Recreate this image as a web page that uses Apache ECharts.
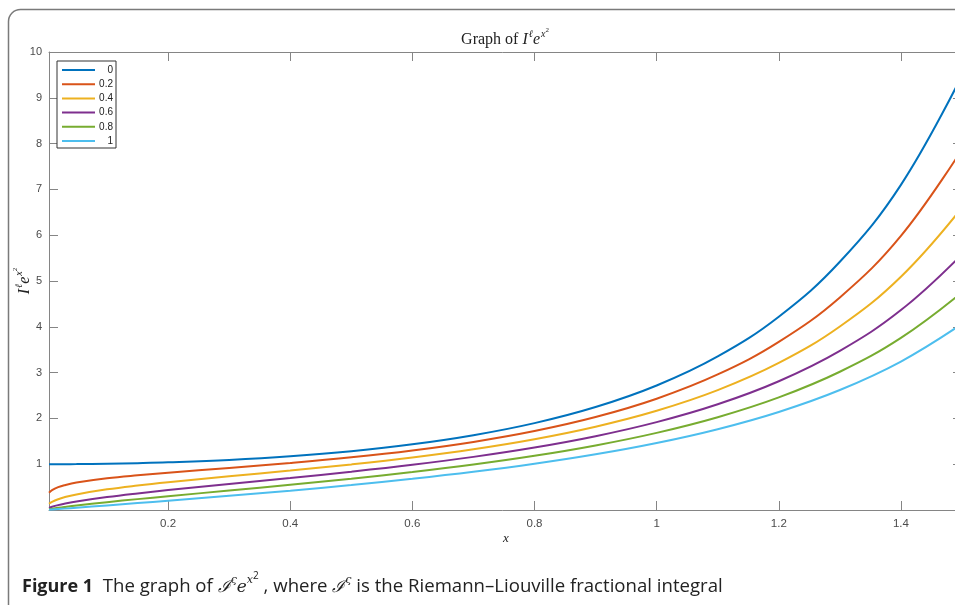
<!DOCTYPE html>
<html><head><meta charset="utf-8">
<script src="https://cdn.jsdelivr.net/npm/echarts@6/dist/echarts.min.js"></script>
<style>html,body{margin:0;padding:0;background:#fff}#c{width:955px;height:605px}</style>
</head><body><div id="c"></div>
<script>
// ---- data ----
const xValues = [0.005, 0.01, 0.02, 0.03, 0.05, 0.1, 0.15, 0.2, 0.3, 0.4, 0.5, 0.6, 0.7, 0.8, 0.9, 1.0, 1.1, 1.2, 1.3, 1.4, 1.5];
const seriesNames = ['0', '0.2', '0.4', '0.6', '0.8', '1'];
const yOrder0  = [1.000, 1.0001, 1.0004, 1.0009, 1.0025, 1.0101, 1.0228, 1.0408, 1.0942, 1.1735, 1.2840, 1.4333, 1.6323, 1.8965, 2.2479, 2.7183, 3.3535, 4.2207, 5.4195, 7.0993, 9.4877];
const yOrder02 = [0.3775, 0.4336, 0.498, 0.5405, 0.5994, 0.6924, 0.7581, 0.8137, 0.9168, 1.0250, 1.1494, 1.2999, 1.4870, 1.7245, 2.0302, 2.4300, 2.9595, 3.6713, 4.6421, 5.9854, 7.8739];
const yOrder04 = [0.1354, 0.1786, 0.2357, 0.2774, 0.3405, 0.4513, 0.5349, 0.6063, 0.7349, 0.8605, 0.9950, 1.1473, 1.3270, 1.5460, 1.8188, 2.1662, 2.6165, 3.2104, 4.0070, 5.0937, 6.6013];
const yOrder06 = [0.0466, 0.0706, 0.1070, 0.1365, 0.1857, 0.2825, 0.3625, 0.4344, 0.5678, 0.6986, 0.8358, 0.9869, 1.1598, 1.3640, 1.6114, 1.9187, 2.3081, 2.8114, 3.4747, 4.3650, 5.5822];
const yOrder08 = [0.0155, 0.0270, 0.0469, 0.0650, 0.0978, 0.1709, 0.2375, 0.3010, 0.4249, 0.5504, 0.6832, 0.8287, 0.9930, 1.1832, 1.4094, 1.6842, 2.0255, 2.4583, 3.0183, 3.7575, 4.7521];
const yOrder1  = [0.005, 0.010, 0.020, 0.030, 0.0500, 0.1003, 0.1511, 0.2027, 0.3092, 0.4224, 0.5450, 0.6805, 0.8333, 1.0091, 1.2155, 1.4626, 1.7646, 2.1410, 2.6198, 3.2409, 4.0631];
const xTickValues = [0.2, 0.4, 0.6, 0.8, 1, 1.2, 1.4];

const allY = [yOrder0, yOrder02, yOrder04, yOrder06, yOrder08, yOrder1];
const colors = ['#0072BD', '#D95319', '#EDB120', '#7E2F8E', '#77AC30', '#4DBEEE'];
const axisColor = '#858585';
const labelColor = '#4a4a4a';

const chart = echarts.init(document.getElementById('c'), null, {renderer: 'canvas'});

const series = allY.map((ys, i) => ({
  type: 'line', name: seriesNames[i], xAxisIndex: 0, yAxisIndex: 0,
  data: xValues.map((x, j) => [x, ys[j]]),
  symbol: 'none', showSymbol: false, smooth: 0.4,
  lineStyle: {width: 2, color: colors[i]}, itemStyle: {color: colors[i]}
}));

const baseX = {
  type: 'value', min: 0.005, max: 1.5,
  axisLine: {show: true, onZero: false, lineStyle: {color: axisColor, width: 1}},
  axisTick: {show: true, inside: true, length: 9, customValues: xTickValues, lineStyle: {color: axisColor}},
  splitLine: {show: false}
};
const baseY = {
  type: 'value', min: 0, max: 10, interval: 1,
  axisLine: {show: true, onZero: false, lineStyle: {color: axisColor, width: 1}},
  axisTick: {show: true, inside: true, length: 9, lineStyle: {color: axisColor}},
  splitLine: {show: false}
};

const serif = '"Liberation Serif", "DejaVu Serif", serif';
const sans = '"Open Sans", "Noto Sans", sans-serif';

chart.setOption({
  animation: false,
  backgroundColor: '#fff',
  grid: {left: 49, width: 913, top: 52, height: 458, containLabel: false, outerBoundsMode: 'none'},
  xAxis: [
    Object.assign({}, baseX, {position: 'bottom',
      axisLabel: {customValues: xTickValues, color: labelColor, fontSize: 11.5, fontFamily: '"Liberation Sans", Arial', margin: 8,
        formatter: v => String(v)}}),
    Object.assign({}, baseX, {position: 'top', axisLabel: {show: false}})
  ],
  yAxis: [
    Object.assign({}, baseY, {position: 'left',
      axisLabel: {showMinLabel: false, color: labelColor, fontSize: 11, fontFamily: '"Liberation Sans", Arial', margin: 7}}),
    Object.assign({}, baseY, {position: 'right', axisLabel: {show: false}})
  ],
  legend: {
    orient: 'vertical', left: 57, top: 61, padding: [4, 3, 2, 5], itemGap: 4.2,
    itemWidth: 33, itemHeight: 2, icon: 'rect', borderColor: '#333', borderWidth: 1, backgroundColor: '#fff',
    data: seriesNames,
    formatter: '{r|{name}}',
    textStyle: {fontSize: 10, fontFamily: '"Liberation Sans", Arial', color: '#222', lineHeight: 10,
      rich: {r: {width: 13, align: 'right', fontSize: 10, lineHeight: 10, fontFamily: '"Liberation Sans", Arial', color: '#222'}}}
  },
  series: series,
  graphic: [
    {type: 'rect', silent: true, z: -10,
      shape: {x: 8.5, y: 9.5, width: 1100, height: 800, r: 12},
      style: {fill: 'none', stroke: '#7a7a7a', lineWidth: 1.5}},
    {type: 'text', silent: true,
      style: {x: 505, y: 37, textAlign: 'center', textVerticalAlign: 'middle',
        text: '{n|Graph of }{i|I}{s|ℓ}{i|e}{s|x}{t|2}',
        rich: {
          n: {fontFamily: serif, fontSize: 16, fill: '#222', verticalAlign: 'bottom', lineHeight: 22},
          i: {fontFamily: serif, fontSize: 16, fontStyle: 'italic', fill: '#222', verticalAlign: 'bottom', lineHeight: 22},
          s: {fontFamily: serif, fontSize: 10, fontStyle: 'italic', fill: '#222', verticalAlign: 'top', lineHeight: 10, padding: [3, 0, 0, 1]},
          t: {fontFamily: serif, fontSize: 7, fill: '#222', verticalAlign: 'top', lineHeight: 7, padding: [1, 0, 0, 0]}
        }}},
    {type: 'text', silent: true, rotation: Math.PI / 2, x: 22, y: 281,
      style: {x: 0, y: 0, textAlign: 'center', textVerticalAlign: 'middle',
        text: '{i|I}{s|ℓ}{i|e}{s|x}{t|2}',
        rich: {
          i: {fontFamily: serif, fontSize: 16, fontStyle: 'italic', fill: '#222', verticalAlign: 'bottom', lineHeight: 22},
          s: {fontFamily: serif, fontSize: 10, fontStyle: 'italic', fill: '#222', verticalAlign: 'top', lineHeight: 10, padding: [3, 0, 0, 1]},
          t: {fontFamily: serif, fontSize: 7, fill: '#222', verticalAlign: 'top', lineHeight: 7, padding: [1, 0, 0, 0]}
        }}},
    {type: 'text', silent: true,
      style: {x: 506, y: 539, textAlign: 'center', textVerticalAlign: 'middle', text: 'x',
        font: 'italic 13px ' + serif, fill: '#222'}},
    {type: 'text', silent: true,
      style: {x: 22, y: 583, textAlign: 'left', textVerticalAlign: 'middle',
        text: '{b|Figure 1}{n|  The graph of }{i|ℐ}{s|ς}{i|e}{s|x}{t|2}{n| , where }{i|ℐ}{s|ς}{n| is the Riemann–Liouville fractional integral}',
        rich: {
          b: {fontFamily: sans, fontWeight: 'bold', fontSize: 18, fill: '#222', verticalAlign: 'bottom', lineHeight: 26},
          n: {fontFamily: sans, fontSize: 18.6, fill: '#222', verticalAlign: 'bottom', lineHeight: 26},
          i: {fontFamily: '"DejaVu Serif", serif', fontStyle: 'italic', fontSize: 17, fill: '#222', verticalAlign: 'bottom', lineHeight: 26},
          s: {fontFamily: '"DejaVu Serif", serif', fontStyle: 'italic', fontSize: 11, fill: '#222', verticalAlign: 'top', lineHeight: 11, padding: [5, 0, 0, 0]},
          t: {fontFamily: sans, fontSize: 10, fill: '#222', verticalAlign: 'top', lineHeight: 10, padding: [1, 0, 0, 0]}
        }}}
  ]
});
</script></body></html>
